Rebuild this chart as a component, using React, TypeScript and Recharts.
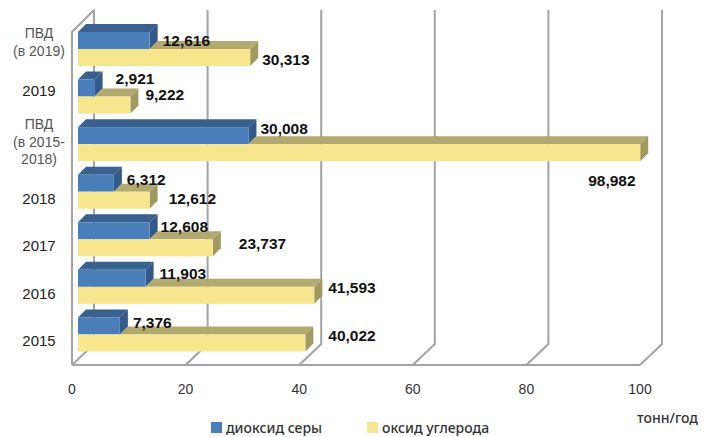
import {
  BarChart,
  Bar,
  XAxis,
  YAxis,
  CartesianGrid,
  Legend,
  LabelList,
} from "recharts";

const categories = [
  ["ПВД", "(в 2019)"],
  ["2019"],
  ["ПВД", "(в 2015-", "2018)"],
  ["2018"],
  ["2017"],
  ["2016"],
  ["2015"],
];
const sulfurDioxide = [12.616, 2.921, 30.008, 6.312, 12.608, 11.903, 7.376];
const carbonOxide = [30.313, 9.222, 98.982, 12.612, 23.737, 41.593, 40.022];
const xTicks = [0, 20, 40, 60, 80, 100];

const data = categories.map((lines, i) => ({
  name: lines.join(" "),
  so2: sulfurDioxide[i],
  co: carbonOxide[i],
}));

// hand placement of the labels, as in the original
const so2Nudge = [[13, 0], [21, -9], [12, -7], [13, -3], [11, -4], [14, -4], [13, -3]];
const coNudge = [[12, 2], [15, -10], [-52, 28], [19, -1], [26, -4], [14, -7], [23, -7]];
const catNudge = [-7, -5, -2, 7, 7, 7, 7];

const FONT = "'Liberation Sans', Arial, sans-serif";
const GRID = "#a3a3a3";
const DEPTH = 8;
const fmt = (v: number) => v.toFixed(3).replace(".", ",");

function Box({ x, y, width, height, front, top, side, topFrom = 0 }: any) {
  const d = DEPTH;
  const r = x + width;
  const t = x + topFrom;
  return (
    <g>
      <polygon points={`${t},${y} ${t + d},${y - d} ${r + d},${y - d} ${r},${y}`} fill={top} />
      <polygon points={`${r},${y} ${r + d},${y - d} ${r + d},${y + height - d} ${r},${y + height}`} fill={side} />
      <rect x={x} y={y} width={width} height={height} fill={front} />
    </g>
  );
}

function GridWall(props: any) {
  const x = props.x1;
  const isZero = Math.abs(x - 78) < 1;
  return (
    <g fill="none" stroke={GRID} strokeWidth={2}>
      <path d={`M${x - 6} 365 L${x + 16} 344 L${x + 16} 10`} />
      {isZero && <path d={`M${x - 6} 365 L${x - 6} 32 L${x + 16} 10`} />}
    </g>
  );
}

function XTick({ x, y, payload }: any) {
  return (
    <text x={x - 6} y={y + 28} textAnchor="middle" fontFamily={FONT} fontSize={14} fill="#333">
      {payload.value}
    </text>
  );
}

function YTick({ y, index }: any) {
  const lines = categories[index];
  const cy = y + catNudge[index];
  const grey = lines.length > 1;
  return (
    <text textAnchor="middle" fontFamily={FONT} fontSize={grey ? 14 : 15} fill={grey ? "#555" : "#222"}>
      {lines.map((l, i) => (
        <tspan key={l} x={39} y={cy + (i - (lines.length - 1) / 2) * 17.5 + 5}>
          {l}
        </tspan>
      ))}
    </text>
  );
}

const valueLabel = (nudge: number[][]) => (p: any) => {
  const [dx, dy] = nudge[p.index];
  return (
    <text
      x={p.x + p.width + dx}
      y={p.y + p.height / 2 + dy + 5}
      fontFamily={FONT}
      fontSize={15.5}
      fontWeight="bold"
      fill="#111"
    >
      {fmt(p.value)}
    </text>
  );
};

function LegendRow() {
  const item = (color: string, label: string, left: number) => (
    <div style={{ position: "absolute", left, top: 0, display: "flex", alignItems: "center", whiteSpace: "nowrap" }}>
      <span style={{ width: 11, height: 11, background: color, marginRight: 4 }} />
      <span style={{ fontFamily: "'Noto Sans', sans-serif", fontWeight: 500, fontSize: 14, color: "#333" }}>{label}</span>
    </div>
  );
  return (
    <div style={{ position: "relative", width: 400, height: 18 }}>
      {item("#4a7ebb", "диоксид серы", 0)}
      {item("#f6e78e", "оксид углерода", 156)}
    </div>
  );
}

export default function App() {
  return (
    <div style={{ width: 714, height: 437, position: "relative", background: "#fff" }}>
      <style>{"body{margin:0}"}</style>
      <BarChart
        width={714}
        height={437}
        layout="vertical"
        data={data}
        barSize={17}
        barGap={0}
        margin={{ top: 25, right: 68, bottom: 0, left: 0 }}
      >
        <CartesianGrid horizontal={false} vertical={GridWall} />
        <XAxis
          type="number"
          domain={[0, 100]}
          ticks={xTicks}
          height={79}
          tickLine={false}
          tick={XTick}
          axisLine={{ stroke: GRID, strokeWidth: 2, transform: "translate(-6 7)" }}
          label={{
            content: () => (
              <text x={637} y={423} fontFamily="'Noto Sans', sans-serif" fontWeight={500} fontSize={14} fill="#333">
                тонн/год
              </text>
            ),
          }}
        />
        <YAxis type="category" dataKey="name" width={78} axisLine={false} tickLine={false} tick={YTick} interval={0} />
        <Legend
          layout="horizontal"
          align="center"
          verticalAlign="middle"
          content={LegendRow}
          wrapperStyle={{ left: 211, top: 418, width: 400, height: 18 }}
        />
        <Bar
          dataKey="so2"
          name="диоксид серы"
          fill="#4a7ebb"
          isAnimationActive={false}
          shape={(p: any) => <Box {...p} front="#4a7ebb" top="#386190" side="#335a88" />}
        >
          <LabelList dataKey="so2" content={valueLabel(so2Nudge)} />
        </Bar>
        <Bar
          dataKey="co"
          name="оксид углерода"
          fill="#f6e78e"
          isAnimationActive={false}
          shape={(p: any) => (
            <Box
              {...p}
              front="#f6e78e"
              top="#b1a96e"
              side="#a09a62"
              topFrom={(p.payload.so2 / p.payload.co) * p.width}
            />
          )}
        >
          <LabelList dataKey="co" content={valueLabel(coNudge)} />
        </Bar>
      </BarChart>
    </div>
  );
}
